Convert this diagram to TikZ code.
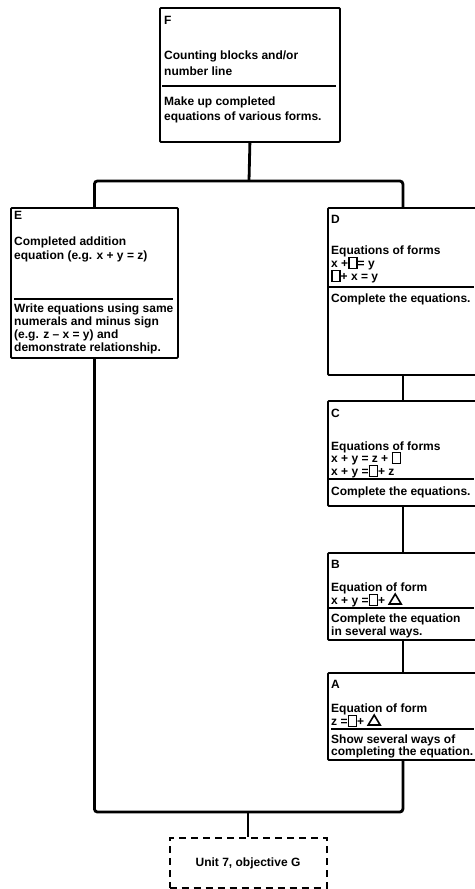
\documentclass[tikz,border=0pt]{standalone}
\usepackage{fontspec}
\setmainfont{Liberation Sans}
\newcommand\sqb{\raisebox{-1pt}{\setlength{\fboxsep}{0pt}\setlength{\fboxrule}{1.4pt}\framebox[9.5pt]{\rule{0pt}{10pt}}}}
\newcommand\trib{\tikz[baseline=0pt,x=1pt,y=1pt]\draw[line width=1.6pt, line join=miter] (0,0) -- (12,0) -- (6,10) -- cycle;}
\begin{document}
\begin{tikzpicture}[x=1pt,y=-1pt,
  box/.style={draw, line width=1.8pt, rounded corners=1pt, anchor=north west, inner sep=0pt},
  dbox/.style={draw, line width=2pt, dash pattern=on 7pt off 5pt, anchor=north, inner sep=0pt,
    font=\bfseries\fontsize{12}{13}\selectfont},
  conn/.style={line width=2.8pt},
  divl/.style={line width=1.6pt},
  txt/.style={anchor=base west, inner sep=0pt, font=\bfseries\fontsize{12}{13}\selectfont}]
\useasboundingbox (0,0) rectangle (474,889);

% boxes
\node[box, minimum width=180, minimum height=134] (F) at (159,7) {};
\node[box, minimum width=167, minimum height=150] (E) at (10,207) {};
\node[box, minimum width=150, minimum height=167] (D) at (327,207) {};
\node[box, minimum width=150, minimum height=105] (C) at (327,400) {};
\node[box, minimum width=150, minimum height=87] (B) at (327,552) {};
\node[box, minimum width=150, minimum height=87] (A) at (327,672) {};
\node[dbox, minimum width=157, minimum height=50] (U) at (248,837) {Unit 7, objective G};

% F text
\node[txt] (fl) at (164,24) {F};
\node[txt] (f1) at (164,59) {Counting blocks and/or};
\node[txt] (f2) at (164,75) {number line};
\draw[divl] (162,86) -- (336,86);
\node[txt] (f3) at (164,105) {Make up completed};
\node[txt] (f4) at (164,120) {equations of various forms.};

% E text
\node[txt] (el) at (14,219) {E};
\node[txt] (e1) at (14,245) {Completed addition};
\node[txt] (e2) at (14,259) {equation (e.g. x + y = z)};
\draw[divl] (14,299) -- (173,299);
\node[txt] (e3) at (14,312) {Write equations using same};
\node[txt] (e4) at (14,325) {numerals and minus sign};
\node[txt] (e5) at (14,338) {(e.g. z -- x = y) and};
\node[txt] (e6) at (14,351) {demonstrate relationship.};

% D text
\node[txt] (dl) at (331,223) {D};
\node[txt] (d1) at (331,254) {Equations of forms};
\node[txt] (d2) at (331,267) {x +\sqb= y};
\node[txt] (d3) at (331,280) {\sqb+ x = y};
\draw[divl] (329,287) -- (474,287);
\node[txt] (d4) at (331,302) {Complete the equations.};

% C text
\node[txt] (cl) at (331,417) {C};
\node[txt] (c1) at (331,450) {Equations of forms};
\node[txt] (c2) at (331,462) {x + y = z + \sqb};
\node[txt] (c3) at (331,475) {x + y =\sqb+ z};
\draw[divl] (329,479) -- (474,479);
\node[txt] (c4) at (331,495) {Complete the equations.};

% B text
\node[txt] (bl) at (331,568) {B};
\node[txt] (b1) at (331,591) {Equation of form};
\node[txt] (b2) at (331,604) {x + y =\sqb+ \trib};
\draw[divl] (329,608) -- (474,608);
\node[txt] (b3) at (331,622) {Complete the equation};
\node[txt] (b4) at (331,635) {in several ways.};

% A text
\node[txt] (al) at (331,688) {A};
\node[txt] (a1) at (331,712) {Equation of form};
\node[txt] (a2) at (331,725) {z =\sqb+ \trib};
\draw[divl] (331,729) -- (474,729);
\node[txt] (a3) at (331,743) {Show several ways of};
\node[txt] (a4) at (331,755) {completing the equation.};

% connectors
\coordinate (j1) at (249,181);
\coordinate (j2) at (248,812);
\draw[conn] (F.south) -- (j1);
\draw[conn, rounded corners=3pt] (E.north) |- (j1) -| (D.north);
\draw[conn] (D.south) -- (C.north);
\draw[conn] (C.south) -- (B.north);
\draw[conn] (B.south) -- (A.north);
\draw[conn, rounded corners=3pt] (E.south) |- (j2) -| (A.south);
\draw[conn] (j2) -- (U.north);
\end{tikzpicture}
\end{document}
